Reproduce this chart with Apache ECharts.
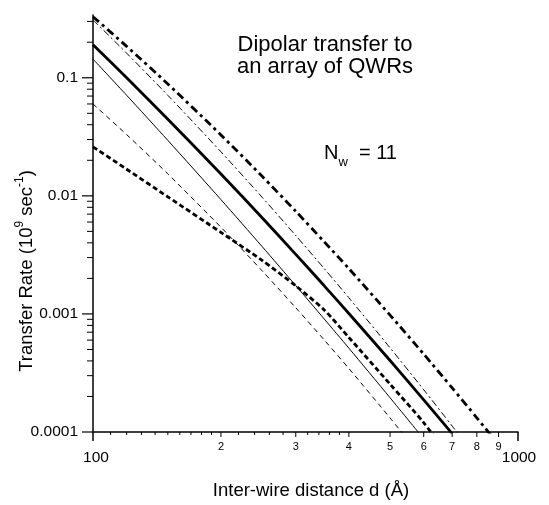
<!DOCTYPE html>
<html>
<head>
<meta charset="utf-8">
<script src="https://cdn.jsdelivr.net/npm/echarts@6/dist/echarts.min.js"></script>
<style>
  html, body { margin: 0; padding: 0; background: #fff; }
  #chart { width: 549px; height: 505px; }
</style>
</head>
<body>
<div id="chart"></div>
<script>
// Inter-wire distance d (Å) sampled for every curve
const distances = [100, 120, 150, 200, 250, 300, 350, 400, 500, 600, 700, 800, 900];

// Transfer rates (10^9 s^-1); null where the curve has already left the plot
const rateThickDashDot = [0.329, 0.1845, 0.0885, 0.0328, 0.01463, 0.0074, 0.00408, 0.00242, 0.000977, 0.000457, 0.000236, 0.000132, 0.000078];
const rateThinDashDot  = [0.309, 0.1614, 0.0710, 0.0236, 0.00973, 0.00461, 0.00242, 0.00137, 0.000516, 0.000228, 0.0001124, 0.0000603, null];
const rateThickSolid   = [0.190, 0.0999, 0.0446, 0.01531, 0.00652, 0.003196, 0.00173, 0.001009, 0.000403, 0.0001873, 0.0000970, null, null];
const rateThinSolid    = [0.1439, 0.0710, 0.0295, 0.00929, 0.003718, 0.001738, 0.000906, 0.000513, 0.000195, 0.0000875, null, null, null];
const rateThinDashed   = [0.0600, 0.0330, 0.01534, 0.00542, 0.002319, 0.001128, 0.000602, 0.000345, 0.0001316, 0.0000584, null, null, null];
const rateThickDashed  = [0.0260, 0.0168, 0.00981, 0.00490, 0.00284, 0.001727, 0.001081, 0.000632, 0.000254, 0.0001199, 0.0000562, null, null];

// Axis ticks and labels
const xMajorTicks  = [100, 1000];
const xMajorLabels = ['100', '1000'];
const xDigitTicks  = [200, 300, 400, 500, 600, 700, 800, 900];
const xDigitLabels = ['2', '3', '4', '5', '6', '7', '8', '9'];
const xMinorTicks  = [110, 120, 130, 140, 150, 160, 170, 180, 190, 220, 240, 260, 280, 320, 340, 360, 380];
const yMajorTicks  = [0.0001, 0.001, 0.01, 0.1];
const yMajorLabels = ['0.0001', '0.001', '0.01', '0.1'];
const yMinorTicks  = [
  0.0002, 0.0003, 0.0004, 0.0005, 0.0006, 0.0007, 0.0008, 0.0009,
  0.002, 0.003, 0.004, 0.005, 0.006, 0.007, 0.008, 0.009,
  0.02, 0.03, 0.04, 0.05, 0.06, 0.07, 0.08, 0.09,
  0.2, 0.3
];

const X_MIN = 100, X_MAX = 1000, Y_MIN = 0.0001, Y_MAX = 0.34;
const FONT = '"Liberation Sans", Arial, Helvetica, sans-serif';

function curve(values, width, dash) {
  const data = [];
  distances.forEach((d, i) => { if (values[i] != null) data.push([d, values[i]]); });
  return {
    type: 'line', data, smooth: 0.25, symbol: 'none', silent: true, clip: true,
    lineStyle: { color: '#000', width, type: dash || 'solid', cap: 'butt' }
  };
}

function tickLayer(points, draw) {
  return {
    type: 'custom', coordinateSystem: 'cartesian2d', silent: true, clip: false, z: 10,
    data: points,
    renderItem: (params, api) => draw(api.coord([api.value(0), api.value(1)]), params.dataIndex)
  };
}

const tickStyle = { stroke: '#000', lineWidth: 1 };

const series = [
  curve(rateThickDashDot, 2.8, [8, 4, 3, 4]),
  curve(rateThinDashDot, 1, [7, 3, 2, 3]),
  curve(rateThickSolid, 2.8),
  curve(rateThinSolid, 1),
  curve(rateThinDashed, 1, [5, 4]),
  curve(rateThickDashed, 2.8, [5, 3]),

  // small ticks along the distance axis
  tickLayer(xMinorTicks.map(v => [v, Y_MIN]), p => ({
    type: 'line', shape: { x1: p[0], y1: p[1], x2: p[0], y2: p[1] + 3 }, style: tickStyle
  })),
  // digit ticks 2..9
  tickLayer(xDigitTicks.map(v => [v, Y_MIN]), (p, i) => ({
    type: 'group', children: [
      { type: 'line', shape: { x1: p[0], y1: p[1], x2: p[0], y2: p[1] + 5 }, style: tickStyle },
      { type: 'text', x: p[0], y: p[1] + 9,
        style: { text: xDigitLabels[i], font: '11px ' + FONT, fill: '#000', align: 'center', verticalAlign: 'top' } }
    ]
  })),
  // decade ticks 100 and 1000
  tickLayer(xMajorTicks.map(v => [v, Y_MIN]), (p, i) => ({
    type: 'group', children: [
      { type: 'line', shape: { x1: p[0], y1: p[1], x2: p[0], y2: p[1] + 9 }, style: { stroke: '#000', lineWidth: 1.5 } },
      { type: 'text', x: p[0] + (i === 0 ? 3 : 1), y: p[1] + 26,
        style: { text: xMajorLabels[i], font: '15.5px ' + FONT, fill: '#000', align: 'center', verticalAlign: 'middle' } }
    ]
  })),
  // rate axis minor ticks
  tickLayer(yMinorTicks.map(v => [X_MIN, v]), p => ({
    type: 'line', shape: { x1: p[0] - 6, y1: p[1], x2: p[0], y2: p[1] }, style: tickStyle
  })),
  // rate axis decade ticks with labels
  tickLayer(yMajorTicks.map(v => [X_MIN, v]), (p, i) => ({
    type: 'group', children: [
      { type: 'line', shape: { x1: p[0] - 11, y1: p[1], x2: p[0], y2: p[1] }, style: { stroke: '#000', lineWidth: 1.2 } },
      { type: 'text', x: p[0] - 15, y: p[1],
        style: { text: yMajorLabels[i], font: '15.5px ' + FONT, fill: '#000', align: 'right', verticalAlign: 'middle' } }
    ]
  }))
];

const chart = echarts.init(document.getElementById('chart'), null, { renderer: 'canvas' });
chart.setOption({
  animation: false,
  backgroundColor: '#fff',
  grid: { left: 93, right: 31, top: 15, bottom: 73, containLabel: false },
  xAxis: {
    type: 'log', logBase: 10, min: X_MIN, max: X_MAX,
    axisLine: { show: true, onZero: false, lineStyle: { color: '#000', width: 1.5 } },
    axisTick: { show: false }, axisLabel: { show: false },
    splitLine: { show: false }, minorTick: { show: false }, minorSplitLine: { show: false }
  },
  yAxis: {
    type: 'log', logBase: 10, min: Y_MIN, max: Y_MAX,
    axisLine: { show: true, onZero: false, lineStyle: { color: '#000', width: 1.5 } },
    axisTick: { show: false }, axisLabel: { show: false },
    splitLine: { show: false }, minorTick: { show: false }, minorSplitLine: { show: false }
  },
  graphic: [
    { type: 'text', x: 325, y: 45, silent: true,
      style: { text: 'Dipolar transfer to', font: '22px ' + FONT, fill: '#000', align: 'center', verticalAlign: 'middle' } },
    { type: 'text', x: 325, y: 67, silent: true,
      style: { text: 'an array of QWRs', font: '22px ' + FONT, fill: '#000', align: 'center', verticalAlign: 'middle' } },
    { type: 'text', x: 324, y: 153, silent: true,
      style: {
        text: '{n|N}{s|w}{n|  = 11}', align: 'left', verticalAlign: 'middle', fill: '#000',
        rich: {
          n: { fontSize: 20, fontFamily: FONT, lineHeight: 32, fill: '#000' },
          s: { fontSize: 13, fontFamily: FONT, lineHeight: 13, verticalAlign: 'bottom', fill: '#000' }
        }
      } },
    { type: 'text', x: 311, y: 491, silent: true,
      style: { text: 'Inter-wire distance d (Å)', font: '18.5px ' + FONT, fill: '#000', align: 'center', verticalAlign: 'middle' } },
    { type: 'text', x: 27, y: 271, rotation: Math.PI / 2, silent: true,
      style: {
        text: '{n|Transfer Rate (10}{s|9}{n| sec}{s|-1}{n|)}', align: 'center', verticalAlign: 'middle', fill: '#000',
        rich: {
          n: { fontSize: 18.5, fontFamily: FONT, lineHeight: 26, fill: '#000' },
          s: { fontSize: 12, fontFamily: FONT, lineHeight: 12, verticalAlign: 'top', fill: '#000' }
        }
      } }
  ],
  series
});
</script>
</body>
</html>
